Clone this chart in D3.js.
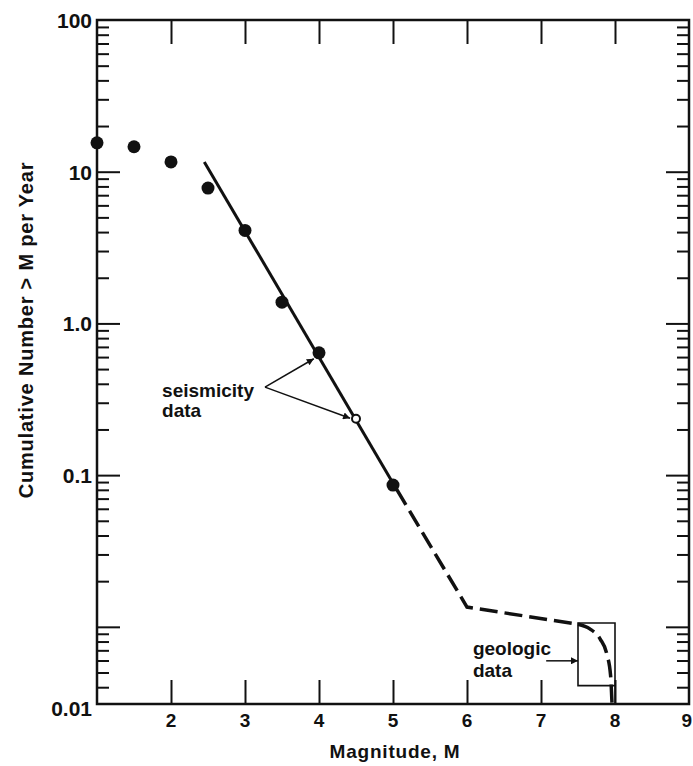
<!DOCTYPE html>
<html>
<head>
<meta charset="utf-8">
<script src="https://cdn.jsdelivr.net/npm/d3@7"></script>
<style>
  html, body { margin: 0; padding: 0; background: #fff; }
  svg text { font-family: "Liberation Sans", Arial, Helvetica, sans-serif; font-weight: bold; fill: #111; }
</style>
</head>
<body>
<div id="chart"></div>
<script>
/**
  Cumulative number of events >= M per year, seismicity plus geologic data.
*/

// observed seismicity points (filled), the one at 4.5 is drawn open
var pointMag = [1.0, 1.5, 2.0, 2.5, 3.0, 3.5, 4.0, 4.5, 5.0];
var pointRate = [15.5, 14.6, 11.6, 7.8, 4.1, 1.38, 0.64, 0.235, 0.086];
var openPointMag = [4.5];

// fitted recurrence line, solid part
var solidMag = [2.45, 5.05];
var solidRate = [11.6, 0.0805];

// extrapolated dashed part, up to the knee and the flat segment
var dashMag = [5.05, 6.0, 7.5];
var dashRate = [0.0805, 0.0135, 0.0104];

// dashed tail bending down to the maximum magnitude
var tailMag = [7.5, 7.66, 7.8, 7.89, 7.94, 7.96];
var tailRate = [0.0104, 0.0097, 0.0083, 0.0066, 0.0048, 0.0031];

// geologic data box (magnitude range and rate range)
var boxMag = [7.5, 8.0];
var boxRate = [0.0041, 0.0106];

var xTicks = [2, 3, 4, 5, 6, 7, 8];
var xTickLabels = ['2', '3', '4', '5', '6', '7', '8', '9'];
var yMin = 0.0031;
var yMax = 100;
var yLabelValues = [100, 10, 1, 0.1, yMin];
var yLabelText = ['100', '10', '1.0', '0.1', '0.01'];
var yDecades = [10, 1, 0.1, 0.01];

var width = 693, height = 766;
var margin = { top: 20, right: 4, bottom: 62, left: 97 };

var svg = d3.select('#chart').append('svg')
  .attr('width', width)
  .attr('height', height);

var x = d3.scaleLinear()
  .domain([1, 9])
  .range([margin.left, width - margin.right]);

var y = d3.scaleLog()
  .domain([yMin, yMax])
  .range([height - margin.bottom, margin.top]);

// minor ticks 2..9 in every decade that is inside the frame
var yMinor = [];
[0.001, 0.01, 0.1, 1, 10].forEach(function(d) {
  for (var k = 2; k <= 9; k++) {
    var v = d * k;
    if (v > yMin && v < yMax) yMinor.push(v);
  }
});

var x0 = x.range()[0], x1 = x.range()[1];
var y0 = y.range()[0], y1 = y.range()[1];

// axes, ticks all pointing into the plot
function styleAxis(g) {
  g.select('.domain').remove();
  g.selectAll('.tick line').attr('stroke', '#111').attr('stroke-width', 2);
  g.selectAll('.tick text').remove();
}

svg.append('g')
  .attr('transform', 'translate(0,' + y0 + ')')
  .call(d3.axisBottom(x).tickValues(xTicks).tickSize(-24))
  .call(styleAxis);

svg.append('g')
  .attr('transform', 'translate(0,' + y1 + ')')
  .call(d3.axisTop(x).tickValues(xTicks).tickSize(-24))
  .call(styleAxis);

svg.append('g')
  .attr('transform', 'translate(' + x0 + ',0)')
  .call(d3.axisLeft(y).tickValues(yDecades).tickSize(-23))
  .call(styleAxis);

svg.append('g')
  .attr('transform', 'translate(' + x0 + ',0)')
  .call(d3.axisLeft(y).tickValues(yMinor).tickSize(-12))
  .call(styleAxis);

svg.append('g')
  .attr('transform', 'translate(' + x1 + ',0)')
  .call(d3.axisRight(y).tickValues(yDecades).tickSize(-23))
  .call(styleAxis);

svg.append('g')
  .attr('transform', 'translate(' + x1 + ',0)')
  .call(d3.axisRight(y).tickValues(yMinor).tickSize(-12))
  .call(styleAxis);

// frame
svg.append('rect')
  .attr('x', x0).attr('y', y1)
  .attr('width', x1 - x0).attr('height', y0 - y1)
  .attr('fill', 'none')
  .attr('stroke', '#111')
  .attr('stroke-width', 2.5);

// tick labels (the last one sits at the page edge, keep it inside)
svg.selectAll('text.x-label')
  .data(xTickLabels).enter()
  .append('text')
    .classed('x-label', true)
    .attr('x', function(d, i) { return i === xTickLabels.length - 1 ? width - 1 : x(+d); })
    .attr('y', y0 + 23)
    .attr('text-anchor', function(d, i) { return i === xTickLabels.length - 1 ? 'end' : 'middle'; })
    .style('font-size', '19px')
    .text(function(d) { return d; });

svg.selectAll('text.y-label')
  .data(yLabelValues).enter()
  .append('text')
    .classed('y-label', true)
    .attr('x', x0 - 5)
    .attr('y', function(d, i) { return y(d) + (i === yLabelValues.length - 1 ? 12 : 8); })
    .attr('text-anchor', 'end')
    .style('font-size', '21px')
    .text(function(d, i) { return yLabelText[i]; });

// axis titles
svg.append('text')
  .attr('x', (x0 + x1) / 2 + 2)
  .attr('y', 758)
  .attr('text-anchor', 'middle')
  .style('font-size', '19px')
  .style('letter-spacing', '0.8px')
  .text('Magnitude, M');

svg.append('text')
  .attr('transform', 'translate(33,330) rotate(-90)')
  .attr('text-anchor', 'middle')
  .style('font-size', '20px')
  .style('letter-spacing', '0.8px')
  .text('Cumulative Number > M per Year');

// recurrence line
var line = d3.line()
  .x(function(d) { return x(d[0]); })
  .y(function(d) { return y(d[1]); });

svg.append('path')
  .datum(d3.zip(solidMag, solidRate))
  .attr('d', line)
  .attr('fill', 'none')
  .attr('stroke', '#111')
  .attr('stroke-width', 3);

svg.append('path')
  .datum(d3.zip(dashMag, dashRate))
  .attr('d', line)
  .attr('fill', 'none')
  .attr('stroke', '#111')
  .attr('stroke-width', 3.5)
  .attr('stroke-dasharray', '18,7');

svg.append('path')
  .datum(d3.zip(tailMag, tailRate))
  .attr('d', line.curve(d3.curveMonotoneX))
  .attr('fill', 'none')
  .attr('stroke', '#111')
  .attr('stroke-width', 3.5)
  .attr('stroke-dasharray', '18,7');

// geologic data box, right edge runs down to the axis
svg.append('path')
  .attr('d', 'M' + x(boxMag[1]) + ',' + y0 +
             'V' + y(boxRate[1]) +
             'H' + x(boxMag[0]) +
             'V' + y(boxRate[0]) +
             'H' + x(boxMag[1]))
  .attr('fill', 'none')
  .attr('stroke', '#111')
  .attr('stroke-width', 1.6);

// data points
var points = d3.zip(pointMag, pointRate);

svg.selectAll('circle.pt')
  .data(points.filter(function(d) { return openPointMag.indexOf(d[0]) < 0; })).enter()
  .append('circle')
    .classed('pt', true)
    .attr('cx', function(d) { return x(d[0]); })
    .attr('cy', function(d) { return y(d[1]); })
    .attr('r', 6.5)
    .attr('fill', '#111');

svg.selectAll('circle.open-pt')
  .data(points.filter(function(d) { return openPointMag.indexOf(d[0]) >= 0; })).enter()
  .append('circle')
    .classed('open-pt', true)
    .attr('cx', function(d) { return x(d[0]); })
    .attr('cy', function(d) { return y(d[1]); })
    .attr('r', 4)
    .attr('fill', '#fff')
    .attr('stroke', '#111')
    .attr('stroke-width', 2);

// annotations
svg.append('defs').append('marker')
  .attr('id', 'arrow')
  .attr('viewBox', '0 0 10 10')
  .attr('refX', 10).attr('refY', 5)
  .attr('markerWidth', 11).attr('markerHeight', 7)
  .attr('markerUnits', 'userSpaceOnUse')
  .attr('orient', 'auto')
  .append('path')
    .attr('d', 'M0,0L10,5L0,10Z')
    .attr('fill', '#111');

var seisVertex = [3.27, 0.38];
var seisTargets = [[3.93, 0.585], [4.42, 0.237]];

seisTargets.forEach(function(t) {
  svg.append('line')
    .attr('x1', x(seisVertex[0])).attr('y1', y(seisVertex[1]))
    .attr('x2', x(t[0])).attr('y2', y(t[1]))
    .attr('stroke', '#111')
    .attr('stroke-width', 1.5)
    .attr('marker-end', 'url(#arrow)');
});

var seisText = svg.append('text')
  .attr('x', x(1.88))
  .attr('y', y(0.328))
  .style('font-size', '19px');
seisText.append('tspan').text('seismicity');
seisText.append('tspan').attr('x', x(1.88)).attr('dy', 20).text('data');

var geoText = svg.append('text')
  .attr('x', x(6.08))
  .attr('y', y(0.00655))
  .style('font-size', '19px');
geoText.append('tspan').text('geologic');
geoText.append('tspan').attr('x', x(6.08)).attr('dy', 22).text('data');

svg.append('line')
  .attr('x1', x(7.07)).attr('y1', y(0.00597))
  .attr('x2', x(boxMag[0])).attr('y2', y(0.00597))
  .attr('stroke', '#111')
  .attr('stroke-width', 1.5)
  .attr('marker-end', 'url(#arrow)');
</script>
</body>
</html>
